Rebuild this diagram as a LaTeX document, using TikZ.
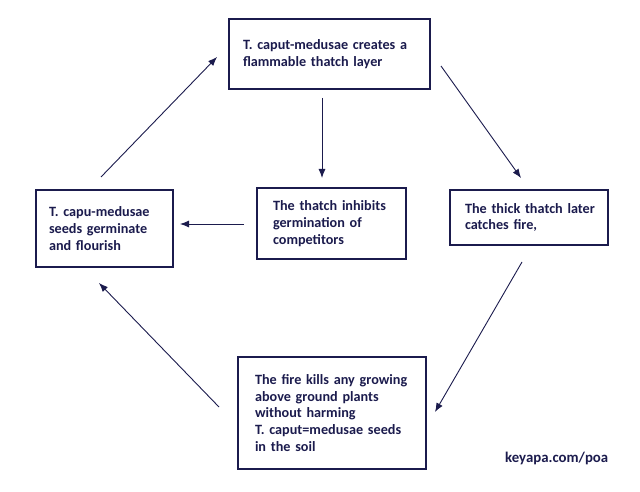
\documentclass[tikz,border=0pt]{standalone}
\usepackage{fontspec}
\setmainfont{Carlito}
\usetikzlibrary{arrows.meta}
\definecolor{navy}{HTML}{1B1B4D}
\tikzset{
  box/.style={draw=navy, line width=2pt, rectangle, anchor=north west, align=left,
    font=\fontsize{14.2}{16.8}\selectfont\bfseries, text=navy, inner ysep=0pt},
  arr/.style={draw=navy, line width=0.9pt, -{Latex[length=9pt,width=7pt]}}
}
\begin{document}
\begin{tikzpicture}[x=1pt,y=-1pt]
\useasboundingbox (0,0) rectangle (640,492);
\node[box, inner xsep=14pt, text width=173pt, minimum height=70pt] (top) at (228,18)
  {\mbox{T. caput-medusae creates a}\\\mbox{flammable thatch layer}\\[4pt]};
\node[box, inner xsep=13pt, text width=111pt, minimum height=77pt] (left) at (35,189)
  {\mbox{T. capu-medusae}\\\mbox{seeds germinate}\\\mbox{and flourish}};
\node[box, inner xsep=16pt, text width=117pt, minimum height=71pt] (mid) at (256,187)
  {\mbox{The thatch inhibits}\\\mbox{germination of}\\\mbox{competitors}};
\node[box, inner xsep=15pt, text width=128pt, minimum height=55pt] (right) at (449,189)
  {\mbox{The thick thatch later}\\\mbox{catches fire,}};
\node[box, inner xsep=17pt, text width=154pt, minimum height=112pt] (bot) at (237,356)
  {\mbox{The fire kills any growing}\\\mbox{above ground plants}\\\mbox{without harming}\\\mbox{T. caput=medusae seeds}\\\mbox{in the soil}};
\node[anchor=west, font=\fontsize{14.8}{16}\selectfont\bfseries, text=navy, inner sep=0pt] (url) at (505,458) {keyapa.com/poa};
% connector ends
\coordinate (a1) at (441,66);  \coordinate (a2) at (521,178);
\coordinate (b1) at (322,98);  \coordinate (b2) at (322,178);
\coordinate (c1) at (244,224); \coordinate (c2) at (180,224);
\coordinate (d1) at (522,262); \coordinate (d2) at (435,412);
\coordinate (e1) at (219,407); \coordinate (e2) at (99,283);
\coordinate (f1) at (101,177); \coordinate (f2) at (217,57);
\draw[arr] (a1) -- (a2);
\draw[arr] (b1) -- (b2);
\draw[arr] (c1) -- (c2);
\draw[arr] (d1) -- (d2);
\draw[arr] (e1) -- (e2);
\draw[arr] (f1) -- (f2);
\end{tikzpicture}
\end{document}
